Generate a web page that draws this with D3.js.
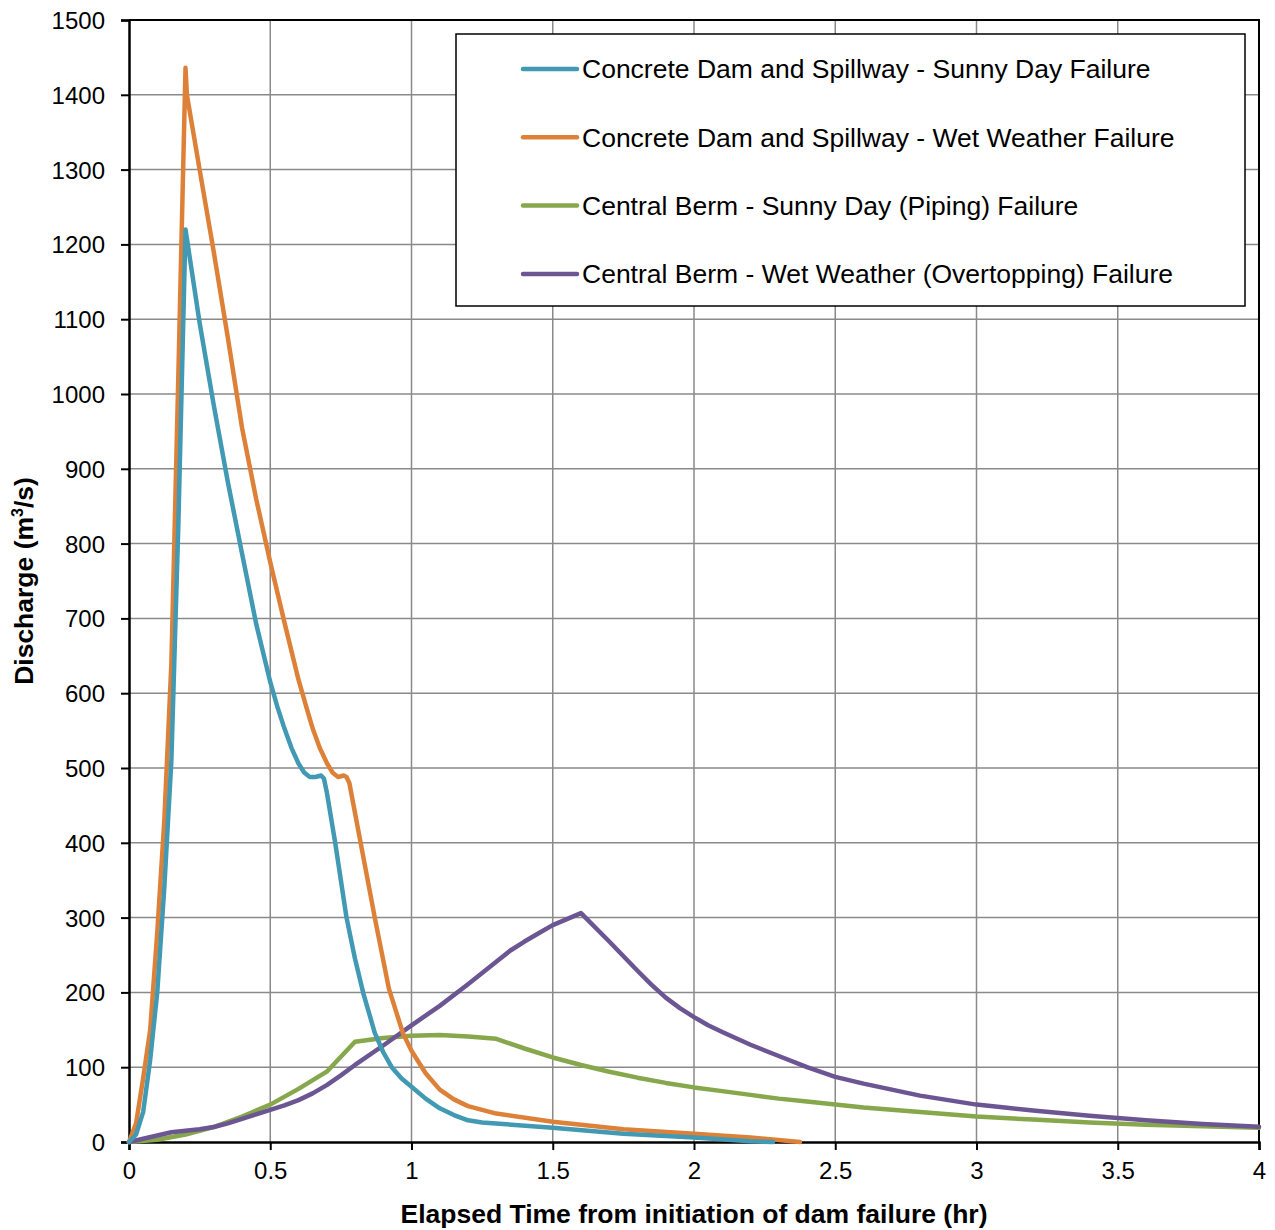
<!DOCTYPE html>
<html>
<head>
<meta charset="utf-8">
<script src="https://cdn.jsdelivr.net/npm/d3@7"></script>
<style>
  body { margin: 0; background: #fff; }
  text { font-family: Arial, "Liberation Sans", sans-serif; fill: #000; }
</style>
</head>
<body>
<div id="chart"></div>
<script>
// [time (hr), discharge (m3/s)]
var concreteSunny = [[0,0],[0.025,10],[0.05,40],[0.075,110],[0.1,200],[0.125,340],[0.15,510],[0.175,830],[0.2,1220],
  [0.25,1095],[0.3,985],[0.35,882],[0.4,787],[0.45,693],[0.5,615],[0.525,582],[0.55,553],[0.575,527],[0.6,506],
  [0.62,494],[0.64,488],[0.66,488],[0.68,490],[0.69,486],[0.7,468],[0.73,400],[0.77,300],[0.8,245],[0.83,198],
  [0.87,146],[0.9,120],[0.93,100],[0.965,85],[1.0,74],[1.05,58],[1.1,45],[1.15,36],[1.2,29],[1.25,26],[1.5,19],
  [1.75,11],[2.0,6],[2.2,1],[2.28,0]];

var concreteWet = [[0,0],[0.025,25],[0.05,85],[0.075,150],[0.1,280],[0.125,430],[0.15,640],[0.175,1030],[0.2,1436],
  [0.205,1400],[0.25,1300],[0.3,1190],[0.35,1075],[0.4,955],[0.45,860],[0.5,775],[0.55,695],[0.6,618],[0.625,585],
  [0.65,553],[0.675,527],[0.7,507],[0.72,494],[0.74,488],[0.76,490],[0.77,488],[0.78,480],[0.82,400],[0.87,300],
  [0.92,205],[0.97,145],[1.0,122],[1.05,92],[1.1,70],[1.15,57],[1.2,48],[1.3,38],[1.5,27],[1.75,17],[2.0,11],
  [2.2,6],[2.375,0]];

var bermSunny = [[0,0],[0.1,3],[0.2,10],[0.3,20],[0.4,34],[0.5,50],[0.6,71],[0.7,94],[0.8,134],[0.9,139],[1.0,142],
  [1.1,143],[1.2,141],[1.3,138],[1.4,125],[1.5,113],[1.6,103],[1.7,94],[1.8,86],[1.9,79],[2.0,73],[2.1,68],[2.2,63],
  [2.3,58],[2.4,54],[2.5,50],[2.6,46],[2.7,43],[2.8,40],[2.9,37],[3.0,34],[3.2,30],[3.4,26],[3.6,23],[3.8,21],[4.0,19]];

var bermWet = [[0,0],[0.15,13],[0.25,17],[0.3,20],[0.35,25],[0.4,31],[0.45,37],[0.5,43],[0.55,49],[0.6,56],[0.65,65],[0.7,76],
  [0.75,89],[0.8,103],[0.9,129],[1.0,156],[1.1,182],[1.2,211],[1.3,241],[1.35,256],[1.4,268],[1.45,279],[1.5,290],
  [1.55,298],[1.6,306],[1.7,268],[1.8,229],[1.85,210],[1.9,193],[1.95,179],[2.0,167],[2.05,156],[2.1,147],[2.2,130],
  [2.3,115],[2.4,100],[2.5,87],[2.6,78],[2.7,70],[2.8,62],[2.9,56],[3.0,50],[3.1,46],[3.2,42],[3.4,35],[3.6,29],
  [3.8,24],[4.0,20.5]];

var seriesNames = ["Concrete Dam and Spillway - Sunny Day Failure",
  "Concrete Dam and Spillway - Wet Weather Failure",
  "Central Berm - Sunny Day (Piping) Failure",
  "Central Berm - Wet Weather (Overtopping) Failure"];
var seriesColors = ["#4199b3", "#de8138", "#86a74b", "#6c5593"];

var xTicks = [0, 0.5, 1, 1.5, 2, 2.5, 3, 3.5, 4];
var yTicks = d3.range(0, 1501, 100);

drawChart(1275, 1230);

function drawChart(w, h) {
  var margin = {top: 20, right: 16, bottom: 88, left: 129},
      width = w - margin.left - margin.right,
      height = h - margin.top - margin.bottom;

  var x = d3.scaleLinear().domain([0, 4]).range([0, width]);
  var y = d3.scaleLinear().domain([0, 1500]).range([height, 0]);

  var svg = d3.select("#chart").append("svg")
      .attr("width", w)
      .attr("height", h)
    .append("g")
      .attr("transform", "translate(" + margin.left + "," + margin.top + ")");

  // gridlines
  svg.append("g").selectAll("line").data(yTicks.slice(1, -1)).enter().append("line")
      .attr("x1", 0).attr("x2", width)
      .attr("y1", function(d) { return y(d); }).attr("y2", function(d) { return y(d); })
      .attr("stroke", "#8a8a8a").attr("stroke-width", 1.5);
  svg.append("g").selectAll("line").data(xTicks.slice(1, -1)).enter().append("line")
      .attr("y1", 0).attr("y2", height)
      .attr("x1", function(d) { return x(d); }).attr("x2", function(d) { return x(d); })
      .attr("stroke", "#8a8a8a").attr("stroke-width", 1.5);

  // top and right border
  svg.append("path")
      .attr("d", "M0,0H" + width + "V" + height)
      .attr("fill", "none").attr("stroke", "#000").attr("stroke-width", 2);

  // axes
  var xAxis = svg.append("g")
      .attr("transform", "translate(0," + height + ")")
      .call(d3.axisBottom(x).tickValues(xTicks).tickSizeOuter(0).tickSize(8).tickPadding(12)
        .tickFormat(function(d) { return d; }));
  var yAxis = svg.append("g")
      .call(d3.axisLeft(y).tickValues(yTicks).tickSizeOuter(0).tickSize(8).tickPadding(16)
        .tickFormat(d3.format("d")));

  [xAxis, yAxis].forEach(function(a) {
    a.select(".domain").attr("stroke", "#000").attr("stroke-width", 2.5);
    a.selectAll(".tick line").attr("stroke", "#000").attr("stroke-width", 2);
    a.selectAll(".tick text").attr("font-size", "24px").attr("fill", "#000")
      .style("font-family", "Arial, 'Liberation Sans', sans-serif");
  });
  yAxis.selectAll(".tick text").attr("dy", "0.35em");

  // the lines
  var line = d3.line()
      .x(function(d) { return x(d[0]); })
      .y(function(d) { return y(d[1]); });

  var allSeries = [concreteSunny, concreteWet, bermSunny, bermWet];
  // draw berm curves first, concrete on top
  [2, 3, 1, 0].forEach(function(i) {
    svg.append("path")
        .datum(allSeries[i])
        .attr("fill", "none")
        .attr("stroke", seriesColors[i])
        .attr("stroke-width", 4.5)
        .attr("stroke-linejoin", "round")
        .attr("stroke-linecap", "round")
        .attr("d", line);
  });

  // legend
  var legend = svg.append("g").attr("transform", "translate(" + (456 - margin.left) + "," + (34 - margin.top) + ")");
  legend.append("rect")
      .attr("width", 789).attr("height", 272)
      .attr("fill", "#fff").attr("stroke", "#000").attr("stroke-width", 1.5);
  seriesNames.forEach(function(name, i) {
    var ly = 35 + i * 68.3;
    legend.append("line")
        .attr("x1", 67).attr("x2", 121).attr("y1", ly).attr("y2", ly)
        .attr("stroke", seriesColors[i]).attr("stroke-width", 4.5).attr("stroke-linecap", "round");
    legend.append("text")
        .attr("x", 126).attr("y", ly).attr("dy", "0.35em")
        .attr("font-size", "26.5px")
        .text(name);
  });

  // axis titles
  svg.append("text")
      .attr("x", width / 2).attr("y", height + 81)
      .attr("text-anchor", "middle")
      .attr("font-size", "26.5px").attr("font-weight", "bold")
      .text("Elapsed Time from initiation of dam failure (hr)");

  var yt = svg.append("text")
      .attr("transform", "translate(" + (-96) + "," + (height / 2) + ") rotate(-90)")
      .attr("text-anchor", "middle")
      .attr("font-size", "26.5px").attr("font-weight", "bold");
  yt.append("tspan").text("Discharge (m");
  yt.append("tspan").attr("font-size", "16px").attr("dy", "-10").text("3");
  yt.append("tspan").attr("dy", "10").text("/s)");
}
</script>
</body>
</html>
